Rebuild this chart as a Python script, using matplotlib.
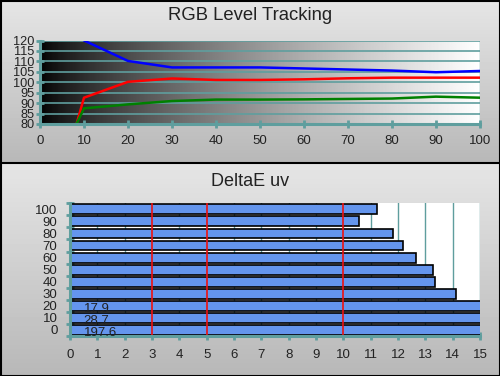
import numpy as np
import matplotlib
matplotlib.use('Agg')
import matplotlib.pyplot as plt

plt.rcParams['font.family'] = ['Liberation Sans', 'DejaVu Sans']

# ---- data ----
levels = [0, 10, 20, 30, 40, 50, 60, 70, 80, 90, 100]
red_vals = [18.0, 92.6, 100.2, 101.8, 101.1, 101.1, 101.4, 101.9, 102.2, 102.2, 102.2]
green_vals = [44.0, 87.5, 89.4, 91.0, 91.7, 91.7, 91.8, 92.0, 92.2, 93.1, 92.6]
blue_vals = [160.0, 120.0, 110.2, 107.1, 107.1, 107.1, 106.6, 106.1, 105.6, 104.8, 105.4]
rgb_yticks = [80, 85, 90, 95, 100, 105, 110, 115, 120]

de_categories = ['0', '10', '20', '30', '40', '50', '60', '70', '80', '90', '100']
de_values = [197.6, 28.7, 17.9, 14.11, 13.37, 13.29, 12.67, 12.20, 11.81, 10.56, 11.22]
de_ref_lines = [3, 5, 10]
de_xmax = 15

TEAL = '#5f9e9e'
W, H = 500, 376
fig = plt.figure(figsize=(W / 100, H / 100), dpi=100)

# ---- panel backgrounds ----
bg = fig.add_axes([0, 0, 1, 1], zorder=-10)
col = np.zeros((H, 1))
split = 163
col[:split, 0] = np.linspace(0.90, 0.72, split)
col[split:, 0] = np.linspace(0.90, 0.72, H - split)
bg.imshow(col, cmap='gray', vmin=0, vmax=1, aspect='auto', extent=[0, W, H, 0])
bg.set_xlim(0, W)
bg.set_ylim(H, 0)
bg.axis('off')
bg.plot([0, W], [split, split], color='black', lw=1.5)
bg.plot([0.5, W - 0.5, W - 0.5, 0.5, 0.5], [0.5, 0.5, H - 0.5, H - 0.5, 0.5], color='black', lw=1.5)

fig.text(0.5, 1 - 15 / H, 'RGB Level Tracking', ha='center', va='center', fontsize=13.3, color='#222222')
fig.text(0.5, 1 - 181 / H, 'DeltaE uv', ha='center', va='center', fontsize=13, color='#222222')

# ---- top plot ----
ax1 = fig.add_axes([40 / W, 1 - 124 / H, 440 / W, 83.5 / H])
grad = np.linspace(0, 1, 512)[None, :] ** 0.75
ax1.imshow(grad, cmap='gray', vmin=0, vmax=1, aspect='auto', extent=[0, 100, 80, 120], zorder=0)
ax1.set_xlim(0, 100)
ax1.set_ylim(80, 120)
for yv in rgb_yticks[1:]:
    ax1.axhline(yv, color=TEAL, lw=1.2, zorder=1)
ax1.plot(levels, blue_vals, color='#0000ff', lw=1.8, zorder=3)
ax1.plot(levels, red_vals, color='#ff0000', lw=1.8, zorder=3)
ax1.plot(levels, green_vals, color='#008000', lw=1.8, zorder=3)
ax1.set_xticks(levels)
ax1.set_yticks(rgb_yticks)
ax1.tick_params(axis='both', colors=TEAL, direction='inout', length=6, width=2, labelcolor='#222222', labelsize=9.5)
ax1.tick_params(axis='y', pad=1, labelsize=9.2)
ax1.tick_params(axis='x', pad=5)
for s in ['top', 'right']:
    ax1.spines[s].set_visible(False)
for s in ['left', 'bottom']:
    ax1.spines[s].set_color(TEAL)
    ax1.spines[s].set_linewidth(2.2)
    ax1.spines[s].set_zorder(4)
ax1.axvline(100, color=TEAL, lw=1.0, zorder=1)

# ---- bottom plot ----
ax2 = fig.add_axes([70 / W, 1 - 336 / H, 410 / W, 132.7 / H])
ax2.set_facecolor('white')
ypos = np.arange(len(de_categories))
ax2.set_xlim(0, de_xmax)
ax2.set_ylim(-0.5, len(de_categories) - 0.5)
for xv in range(1, de_xmax + 1):
    ax2.axvline(xv, color=TEAL, lw=1.0, zorder=0)
ax2.barh(ypos, de_values, height=0.82, color='#6495ed', edgecolor='black', linewidth=1.2, zorder=2)
for xv in de_ref_lines:
    ax2.axvline(xv, color='#ee1111', lw=1.2, zorder=3)
for i, v in enumerate(de_values):
    if v > de_xmax:
        ax2.text(0.5, ypos[i] - 0.25, f'{v:.1f}', ha='left', va='center', fontsize=9.5, color='#222222', zorder=5)
ax2.set_xticks(range(0, de_xmax + 1))
ax2.set_yticks(ypos)
ax2.set_yticklabels(de_categories)
ax2.set_yticks(np.arange(-0.5, len(de_categories)), minor=True)
ax2.tick_params(axis='y', which='major', length=0, pad=9, labelsize=9.5, labelcolor='#222222')
ax2.tick_params(axis='y', which='minor', colors=TEAL, direction='inout', length=6, width=2)
ax2.tick_params(axis='x', colors=TEAL, direction='inout', length=6, width=2, pad=6, labelcolor='#222222', labelsize=9.5)
for s in ['top', 'right']:
    ax2.spines[s].set_visible(False)
for s in ['left', 'bottom']:
    ax2.spines[s].set_color(TEAL)
    ax2.spines[s].set_linewidth(2.2)
    ax2.spines[s].set_zorder(4)

fig.savefig('out.png', dpi=100)
